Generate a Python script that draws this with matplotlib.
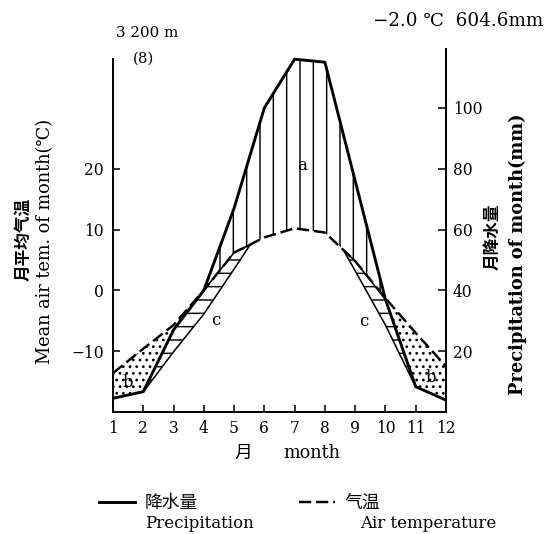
import numpy as np
import matplotlib
matplotlib.use("Agg")
import matplotlib.pyplot as plt
from matplotlib.lines import Line2D

# ---------------- data ----------------
months = [1, 2, 3, 4, 5, 6, 7, 8, 9, 10, 11, 12]
month_labels = ["1", "2", "3", "4", "5", "6", "7", "8", "9", "10", "11", "12"]
precip_mm = [4.5, 6.7, 27.0, 40.0, 67.0, 100.0, 116.0, 115.0, 76.0, 37.0, 8.3, 3.9]
temp_c = [-13.6, -9.6, -5.7, 0.0, 6.2, 8.7, 10.2, 9.5, 4.8, -1.3, -7.0, -12.5]
# thin solid line bounding the horizontally hatched band "c" (left-axis units)
c_line_c = [np.nan, -16.7, -10.1, -3.9, 3.5, 11.0, np.nan, 12.0, 3.2, -5.7, -15.9, np.nan]
temp_ticks = [-10, 0, 10, 20]
precip_ticks = [20, 40, 60, 80, 100]

W, H = 544, 534
DPI = 80
SERIF = ["DejaVu Serif", "DejaVu Sans"]
CJK = ["Noto Sans CJK SC", "DejaVu Sans"]

plt.rcParams["hatch.linewidth"] = 1.3
plt.rcParams["hatch.color"] = "black"

fig = plt.figure(figsize=(W / DPI, H / DPI), dpi=DPI, facecolor="white")


def fx(px):
    return px / W


def fy(py):
    return 1 - py / H


ax = fig.add_axes([fx(113), fy(412), fx(446) - fx(113), fy(47) - fy(412)])
ax.set_xlim(1, 12)
ax.set_ylim(-20, 40)  # 0 mm <-> -20 C, 20 mm = 10 C
ax2 = ax.twinx()
ax2.set_ylim(0, 120)

x = np.array(months, dtype=float)
T = np.array(temp_c)
P = ax2.transData + ax.transData.inverted()  # mm -> C axis
P_eq = np.array([P.transform((m, p))[1] for m, p in zip(months, precip_mm)])
L2 = np.array(c_line_c)

# humid period (a): vertical hatching
ax.fill_between(x, P_eq, T, where=P_eq >= T, interpolate=True,
                facecolor="none", edgecolor="black", hatch="|", linewidth=0)
# dry period (b): dots
ax.fill_between(x, T, P_eq, where=T >= P_eq, interpolate=True,
                facecolor="none", edgecolor="black", hatch="..", linewidth=0)
# band (c): horizontal hatching
upper_c = np.minimum(T, P_eq)
ax.fill_between(x, L2, upper_c, where=L2 <= upper_c, interpolate=True,
                facecolor="none", edgecolor="black", hatch="-", linewidth=1.4)

ax.plot(x, P_eq, color="black", lw=2.6, solid_joinstyle="miter")
ax.plot(x, T, color="black", lw=2.2, ls=(0, (5, 2)))

# axes styling
for a in (ax, ax2):
    a.spines["top"].set_visible(False)
    for s in ("left", "right", "bottom"):
        a.spines[s].set_linewidth(1.8)
ax.spines["right"].set_visible(False)
ax2.spines["left"].set_visible(False)
ax2.spines["bottom"].set_visible(False)
ax.spines["left"].set_bounds(-20, 38)
ax2.spines["right"].set_bounds(0, 119.5)

ax.set_xticks(months)
ax.set_xticklabels(month_labels, family=SERIF, fontsize=14)
ax.set_yticks(temp_ticks)
ax.set_yticklabels([("−10" if t < 0 else str(t)) for t in temp_ticks], family=SERIF, fontsize=14)
ax2.set_yticks(precip_ticks)
ax2.set_yticklabels([str(p) for p in precip_ticks], family=SERIF, fontsize=14)
ax.tick_params(axis="x", direction="in", length=6, width=1.4, pad=7)
ax.tick_params(axis="y", direction="in", length=6, width=1.4, pad=8)
ax2.tick_params(axis="y", direction="in", length=7, width=1.4, pad=6)

# region labels
ax.text(7.26, 20.6, "a", family=SERIF, fontsize=15, ha="center", va="center")
ax.text(1.5, -15.2, "b", family=SERIF, fontsize=15, ha="center", va="center")
ax.text(11.5, -14.4, "b", family=SERIF, fontsize=15, ha="center", va="center")
ax.text(4.38, -4.9, "c", family=SERIF, fontsize=15, ha="center", va="center")
ax.text(9.3, -5.2, "c", family=SERIF, fontsize=15, ha="center", va="center")

# axis titles
fig.text(fx(23), fy(239), "月平均气温", family=CJK, fontsize=15, weight="bold",
         rotation=90, ha="center", va="center")
fig.text(fx(45), fy(241), "Mean air tem. of month(℃)", family=SERIF, fontsize=16,
         rotation=90, ha="center", va="center")
fig.text(fx(493), fy(237), "月降水量", family=CJK, fontsize=15, weight="bold",
         rotation=90, ha="center", va="center")
fig.text(fx(518), fy(254), "Precipitation of month(mm)", family=SERIF, fontsize=16,
         weight="bold", rotation=90, ha="center", va="center")
fig.text(fx(243), fy(453), "月", family=CJK, fontsize=16, ha="center", va="center")
fig.text(fx(283), fy(453), "month", family=SERIF, fontsize=16, ha="left", va="center")

# header
fig.text(fx(116), fy(33), "3 200 m", family=SERIF, fontsize=13.5, ha="left", va="center")
fig.text(fx(133), fy(59), "(8)", family=SERIF, fontsize=13.5, ha="left", va="center")
fig.text(fx(373), fy(21), "−2.0 ℃  604.6mm", family=SERIF, fontsize=16.5, ha="left", va="center")

# legend
handles = [Line2D([], [], color="black", lw=2.6),
           Line2D([], [], color="black", lw=2.2, ls=(0, (5, 2)))]
fig.legend(handles, ["降水量", "气温"], loc="center left",
           bbox_to_anchor=(fx(99), fy(503)), ncol=2, frameon=False,
           prop={"family": CJK, "size": 16}, handlelength=2.0, handletextpad=0.56,
           columnspacing=5.7, borderaxespad=0, borderpad=0)
fig.text(fx(145), fy(523), "Precipitation", family=SERIF, fontsize=15, ha="left", va="center")
fig.text(fx(360), fy(523), "Air temperature", family=SERIF, fontsize=15, ha="left", va="center")

fig.savefig("out.png", dpi=DPI, facecolor="white")
